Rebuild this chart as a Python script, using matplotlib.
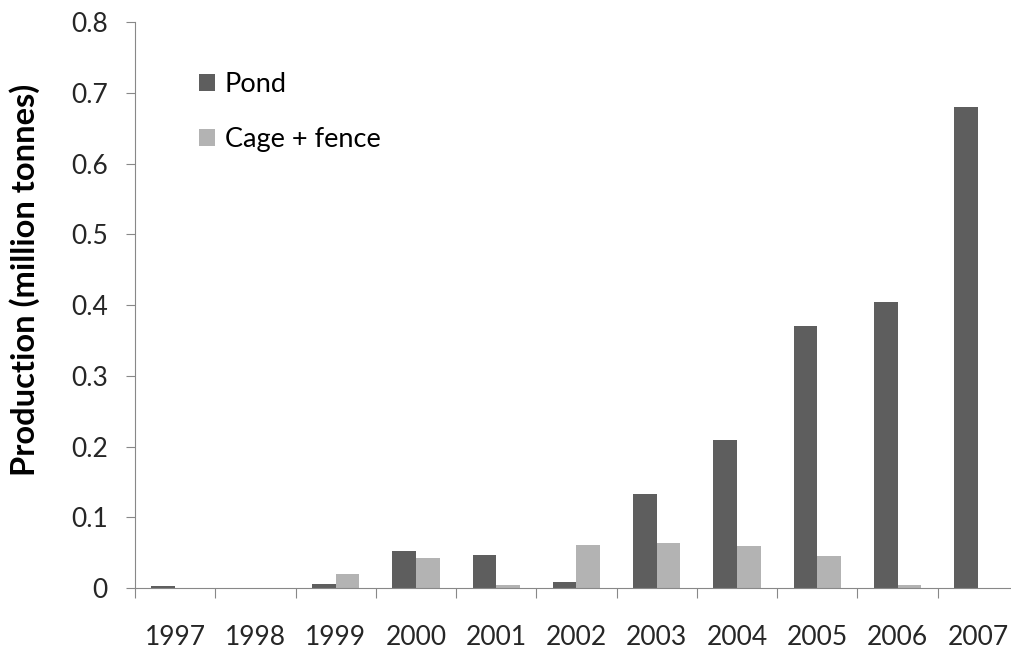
import numpy as np
import matplotlib.pyplot as plt

plt.rcParams['font.family'] = ['Lato', 'DejaVu Sans']

years = ['1997', '1998', '1999', '2000', '2001', '2002',
         '2003', '2004', '2005', '2006', '2007']
pond = [0.003, 0.0, 0.005, 0.052, 0.046, 0.009,
        0.133, 0.209, 0.370, 0.405, 0.680]
cage = [0.0, 0.0, 0.020, 0.042, 0.004, 0.061,
        0.063, 0.059, 0.045, 0.004, 0.0]

fig = plt.figure(figsize=(10.12, 6.5), dpi=100)
ax = fig.add_axes([0.1334, 0.0954, 0.8725, 0.8706])

x = np.arange(len(years))
w = 0.295
ax.bar(x - w/2, pond, w, color='#5e5e5e', label='Pond')
ax.bar(x + w/2, cage, w, color='#b3b3b3', label='Cage + fence')

ax.set_xlim(-0.5, 10.5)
ax.set_ylim(0, 0.8)
ax.set_yticks(np.arange(0, 0.81, 0.1))
ax.set_yticklabels(['0', '0.1', '0.2', '0.3', '0.4', '0.5', '0.6', '0.7', '0.8'])

# tick marks sit between the years, labels in the middle
ax.set_xticks(np.arange(-0.5, 11, 1))
ax.set_xticklabels([])
ax.set_xticks(x, minor=True)
ax.set_xticklabels(years, minor=True)
ax.tick_params(axis='x', which='major', length=7, color='#888888')
ax.tick_params(axis='x', which='minor', length=0, pad=27, labelsize=19, labelcolor='#262626')
ax.tick_params(axis='y', length=6.5, color='#888888', labelsize=19, labelcolor='#262626', pad=13)

for s in ['top', 'right']:
    ax.spines[s].set_visible(False)
for s in ['left', 'bottom']:
    ax.spines[s].set_color('#888888')

ax.set_ylabel('Production (million tonnes)', fontsize=23.5, fontweight='bold')
ax.yaxis.set_label_coords(-0.108, 0.544)

ax.legend(loc='upper left', bbox_to_anchor=(0.045, 0.955), frameon=False, fontsize=19.5,
          handlelength=0.6, handleheight=0.6, handletextpad=0.35, labelspacing=1.1)

fig.savefig('out.png', dpi=100)
